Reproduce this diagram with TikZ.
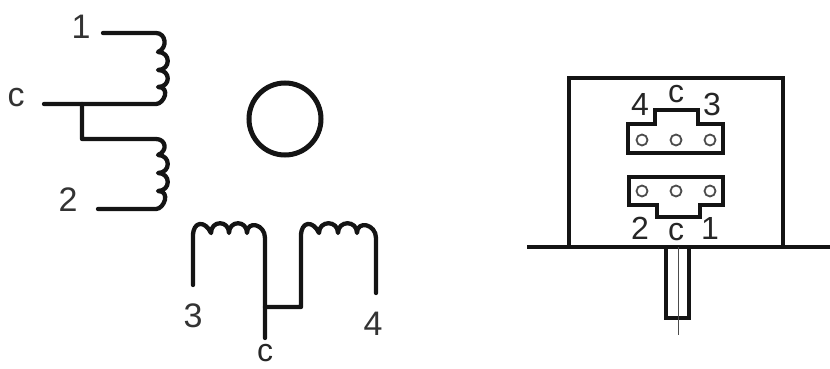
\documentclass[tikz,border=0pt]{standalone}
\usepackage{fontspec}
\setmainfont{Liberation Sans}
\tikzset{
  wire/.style={line width=4.3pt,line join=round,line cap=round,black!92},
  box/.style={line width=3.2pt,line join=miter,black!92},
  conn/.style={line width=4.6pt,line join=miter,black!92},
  hole/.style={draw=black!70,line width=1.8pt,fill=white,circle,minimum size=11pt,inner sep=0pt},
  lab/.style={font=\fontsize{34}{34}\selectfont,text=black!80,inner sep=0pt},
  labs/.style={font=\fontsize{32}{32}\selectfont,text=black!85,inner sep=0pt}
}
\newcommand{\bumpR}[1]{.. controls +(13,0) and +(13,0) .. #1}
\newcommand{\bumpU}[1]{.. controls +(0,-13) and +(0,-13) .. #1}
\begin{document}
\begin{tikzpicture}[x=1pt,y=-1pt]
\useasboundingbox (0,0) rectangle (830,369);
% coil 1-c
\draw[wire] (103,33) -- (156,33) .. controls +(10,0) and +(10,-4) .. (158,52) \bumpR{(158,70)} \bumpR{(158,87)} .. controls +(13,0) and +(8,0) .. (156,104) -- (44,104);
\draw[wire] (82,104) -- (82,139) -- (156,139) .. controls +(10,0) and +(10,-4) .. (158,155) \bumpR{(158,173)} \bumpR{(158,191)} .. controls +(13,0) and +(8,0) .. (156,209) -- (98,209);
% coil 3-c
\draw[wire] (193,285) -- (193,236) .. controls +(0,-15) and +(-6,-13) .. (211,233) \bumpU{(229,233)} \bumpU{(247,233)} .. controls +(0,-13) and +(0,-14) .. (265,238) -- (265,338);
% coil c-4
\draw[wire] (265,307) -- (301,307) -- (301,236) .. controls +(0,-15) and +(-6,-13) .. (319,233) \bumpU{(338,233)} \bumpU{(357,233)} .. controls +(0,-13) and +(0,-14) .. (376,238) -- (376,293);
% rotor
\node[draw=black!92,line width=5pt,circle,minimum size=72pt,inner sep=0pt] (rotor) at (285,119) {};
% housing
\draw[box] (569,247) -- (569,78) -- (783,78) -- (783,247);
\draw[box,line width=3.8pt] (527,247) -- (830,247);
% connectors
\draw[conn] (628,124) -- (655,124) -- (655,110) -- (698,110) -- (698,124) -- (723,124) -- (723,153) -- (628,153) -- cycle;
\draw[conn] (629,177) -- (723,177) -- (723,205) -- (700,205) -- (700,217) -- (657,217) -- (657,205) -- (629,205) -- cycle;
\node[hole] (h1) at (642,140) {};
\node[hole] (h2) at (676,140) {};
\node[hole] (h3) at (710,140) {};
\node[hole] (h4) at (642,191) {};
\node[hole] (h5) at (676,191) {};
\node[hole] (h6) at (710,191) {};
% shaft
\draw[conn] (666,247) -- (666,318) -- (689,318) -- (689,247);
\draw[black!70,line width=1pt] (678,247) -- (678,335);
% labels
\node[lab] (l1) at (81,27) {1};
\node[lab] (lc1) at (16,98) {c};
\node[lab] (l2) at (68,200) {2};
\node[lab] (l3) at (193,316) {3};
\node[lab] (l4) at (373,324) {4};
\node[labs] (lc2) at (265,353) {c};
\node[labs] (r4) at (640,104) {4};
\node[labs] (rc1) at (676,94) {c};
\node[labs] (r3) at (712,104) {3};
\node[labs] (r2) at (640,228) {2};
\node[labs] (rc2) at (676,232) {c};
\node[labs] (r1) at (710,228) {1};
\end{tikzpicture}
\end{document}
